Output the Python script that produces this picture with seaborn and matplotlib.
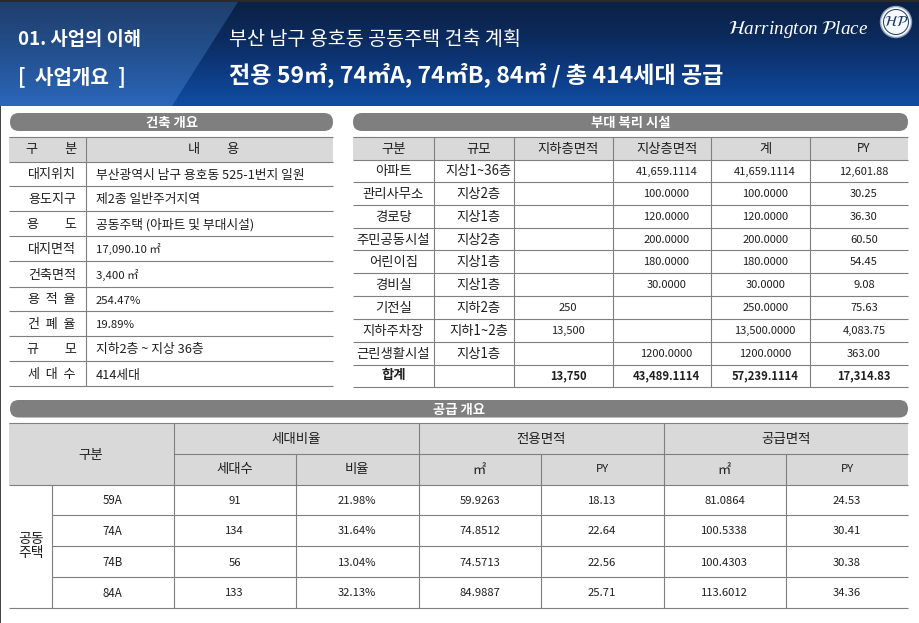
#!/usr/bin/env python3
"""Slide: 사업개요 tables (건축 개요, 부대 복리 시설, 공급 개요)"""

import numpy as np
import matplotlib
matplotlib.use("Agg")
import matplotlib.pyplot as plt
from matplotlib.patches import Polygon, Rectangle, FancyBboxPatch, Circle
import seaborn as sns

sns.set_theme(style="white")
KR = ['Noto Sans CJK KR', 'DejaVu Sans']
plt.rcParams['font.family'] = KR
plt.rcParams['mathtext.fontset'] = 'stix'

W, H = 919, 623
LINE = "#7f7f7f"
HEAD = "#d9d9d9"
PILL = "#7f7f7f"
INK = "#1f1f1f"

# 건축 개요
bldg_labels = ["대지위치", "용도지구", "용         도", "대지면적", "건축면적", "용  적  율", "건  폐  율", "규         모", "세  대  수"]
bldg_values = ["부산광역시 남구 용호동 525-1번지 일원", "제2종 일반주거지역", "공동주택 (아파트 및 부대시설)",
               "17,090.10 ㎡", "3,400 ㎡", "254.47%", "19.89%", "지하2층 ~ 지상 36층", "414세대"]

# 부대 복리 시설
fac_head = ["구분", "규모", "지하층면적", "지상층면적", "계", "PY"]
fac_names = ["아파트", "관리사무소", "경로당", "주민공동시설", "어린이집", "경비실", "기전실", "지하주차장", "근린생활시설"]
fac_scale = ["지상1~36층", "지상2층", "지상1층", "지상2층", "지상1층", "지상1층", "지하2층", "지하1~2층", "지상1층"]
fac_under = ["", "", "", "", "", "", "250", "13,500", ""]
fac_above = ["41,659.1114", "100.0000", "120.0000", "200.0000", "180.0000", "30.0000", "", "", "1200.0000"]
fac_total = ["41,659.1114", "100.0000", "120.0000", "200.0000", "180.0000", "30.0000", "250.0000", "13,500.0000", "1200.0000"]
fac_py = ["12,601.88", "30.25", "36.30", "60.50", "54.45", "9.08", "75.63", "4,083.75", "363.00"]
fac_sum = ["합계", "", "13,750", "43,489.1114", "57,239.1114", "17,314.83"]

# 공급 개요
sup_types = ["59A", "74A", "74B", "84A"]
sup_units = ["91", "134", "56", "133"]
sup_ratio = ["21.98%", "31.64%", "13.04%", "32.13%"]
sup_ex_m2 = ["59.9263", "74.8512", "74.5713", "84.9887"]
sup_ex_py = ["18.13", "22.64", "22.56", "25.71"]
sup_sp_m2 = ["81.0864", "100.5338", "100.4303", "113.6012"]
sup_sp_py = ["24.53", "30.41", "30.38", "34.36"]

fig = plt.figure(figsize=(W / 100, H / 100), dpi=100, facecolor="white")

# banner gradient, two heatmaps clipped to each half
ax_b = fig.add_axes([0, 1 - 106 / H, 1, 104 / H])
ramp = np.arange(104).reshape(-1, 1)
dark = sns.blend_palette(["#0a2044", "#0b2a5c", "#0d3a80", "#0f4ca4"], 104, as_cmap=True)
light = sns.blend_palette(["#1f3e6c", "#23508f", "#2a66ba"], 104, as_cmap=True)
sns.heatmap(ramp, ax=ax_b, cmap=dark, cbar=False, xticklabels=False, yticklabels=False)
sns.heatmap(ramp, ax=ax_b, cmap=light, cbar=False, xticklabels=False, yticklabels=False)
ax_b.collections[1].set_clip_path(Polygon([(0, 1), (238 / W, 1), (172 / W, 0), (0, 0)], transform=ax_b.transAxes))
ax_b.set_axis_off()

ax = fig.add_axes([0, 0, 1, 1], facecolor="none")
ax.set_xlim(0, W)
ax.set_ylim(H, 0)
ax.set_axis_off()


def txt(x, y, s, size=8.6, color=INK, ha="center", weight="normal", **kw):
    # the CJK font sits high when centred, push it down a bit
    ax.text(x, y + 1.5, s, fontsize=size, color=color, ha=ha, va="center", fontweight=weight, **kw)


def hline(y, x0, x1):
    ax.plot([x0, x1], [y, y], color=LINE, lw=0.8, solid_capstyle="butt")


def vline(x, y0, y1):
    ax.plot([x, x], [y0, y1], color=LINE, lw=0.8, solid_capstyle="butt")


def pill(x0, x1, y0, y1, label):
    r = (y1 - y0) / 2
    ax.add_patch(FancyBboxPatch((x0 + r, y0 + r), x1 - x0 - 2 * r, 0, boxstyle=f"round,pad={r},rounding_size={r}",
                                fc=PILL, ec="none", mutation_aspect=1))
    txt((x0 + x1) / 2, (y0 + y1) / 2 - 0.5, label, size=9.6, color="white", weight="bold")


# top strip, left edge
ax.add_patch(Rectangle((0, 0), W, 2, fc="#2a2a2a", ec="none"))
ax.add_patch(Rectangle((0, 106), 1, H - 106, fc="#444444", ec="none"))

# banner text
txt(18, 38, "01. 사업의 이해", size=13.5, color="white", ha="left", weight="bold")
txt(18, 75, "[  사업개요  ]", size=14.5, color="white", ha="left", weight="bold")
txt(229, 38, "부산 남구 용호동 공동주택 건축 계획", size=14.1, color="white", ha="left")
txt(229, 73, "전용 59㎡, 74㎡A, 74㎡B, 84㎡ / 총 414세대 공급", size=16.6, color="white", ha="left", weight="bold")

# logo
ax.text(728, 29, r"$\mathcal{H}$arrington $\mathcal{P}$lace", fontsize=13.8, color="white", ha="left", va="center",
        family="Liberation Serif", style="italic")
ax.add_patch(Circle((896, 22), 15.5, fc="#f7f8fa", ec="#8fa3c0", lw=1.0))
ax.add_patch(Circle((896, 22), 12.5, fc="none", ec="#1c3a66", lw=0.7))
ax.text(896, 22, r"$\mathcal{HP}$", fontsize=10.5, color="#1c3a66", ha="center", va="center")

# 건축 개요
pill(10, 333, 113, 131, "건축 개요")
ax.add_patch(Rectangle((9, 137), 324, 24.5, fc=HEAD, ec="none"))
rows_l = [137, 161.5, 186, 211, 236, 261, 287, 311, 336, 361, 386]
for y in rows_l:
    hline(y, 9, 333)
vline(85.5, 137, 386)
txt(52, 148.5, "구         분", size=9.5)
txt(214, 148.5, "내         용", size=9.5)
for i, (lab, val) in enumerate(zip(bldg_labels, bldg_values)):
    cy = (rows_l[i + 1] + rows_l[i + 2]) / 2
    txt(52, cy - 0.5, lab, size=9.4)
    # numeric rows are set tighter than the Korean ones
    txt(96, cy, val, size=8.2 if val[0].isdigit() and "층" not in val and "세대" not in val else 9.2, ha="left")

# 부대 복리 시설
pill(353, 908, 113, 131, "부대 복리 시설")
col_x = [353, 433.5, 513.5, 612.5, 710.5, 810, 908]
rows_r = [136.5, 159.5, 181.5, 204.5, 227.5, 250, 272.5, 295.5, 318.5, 341.5, 364.5, 386.5]
ax.add_patch(Rectangle((353, 136.5), 555, 23, fc=HEAD, ec="none"))
for y in rows_r:
    hline(y, 353, 908)
for x in col_x[1:-1]:
    vline(x, 136.5, 386.5)
mids = [(a + b) / 2 for a, b in zip(col_x[:-1], col_x[1:])]
# everything right of the first column sits about 5px right of centre
mids = mids[:1] + [m + 5 for m in mids[1:]]
for c, s in zip(mids, fac_head):
    txt(c, 147, s, size=9.6 if s != "PY" else 8.4)
fac_cols = [fac_names, fac_scale, fac_under, fac_above, fac_total, fac_py]
for c, (mid, col) in enumerate(zip(mids, fac_cols)):
    for i, s in enumerate(col):
        txt(mid, (rows_r[i + 1] + rows_r[i + 2]) / 2 - 0.5, s, size=9.6 if c < 2 else 8)
for mid, s in zip(mids, fac_sum):
    txt(mid, 374, s, size=9.6 if s == "합계" else 8.1, weight="bold")

# 공급 개요
pill(10, 908, 400, 417.5, "공급 개요")
ax.add_patch(Rectangle((9, 422.5), 899, 62, fc=HEAD, ec="none"))
hline(422.5, 9, 908)
hline(453.5, 173.5, 908)
hline(484.5, 9, 908)
for y in [514.5, 545.5, 576.5]:
    hline(y, 51.5, 908)
hline(607.5, 9, 908)
vline(51.5, 484.5, 607.5)
for x in [173.5, 418.5, 663.5]:
    vline(x, 422.5, 607.5)
for x in [295.5, 540.5, 785.5]:
    vline(x, 453.5, 607.5)
txt(91, 453, "구분", size=9.7)
for c, s in zip([296, 541, 786], ["세대비율", "전용면적", "공급면적"]):
    txt(c, 437, s, size=9.7)
sub_x = [234.5, 357, 479.5, 602, 724.5, 847]
for c, s in zip(sub_x, ["세대수", "비율", "㎡", "PY", "㎡", "PY"]):
    txt(c, 468, s, size=9.6 if s != "PY" else 8.2)
txt(31, 544.5, "공동\n주택", size=10, linespacing=1.0)
sup_rows = [499.5, 530, 561, 592]
sup_cols = [sup_units, sup_ratio, sup_ex_m2, sup_ex_py, sup_sp_m2, sup_sp_py]
for y, s in zip(sup_rows, sup_types):
    txt(112.5, y, s, size=8.3)
for c, col in zip(sub_x, sup_cols):
    for y, s in zip(sup_rows, col):
        txt(c, y, s, size=8.1)

fig.savefig("out.png", dpi=100)
